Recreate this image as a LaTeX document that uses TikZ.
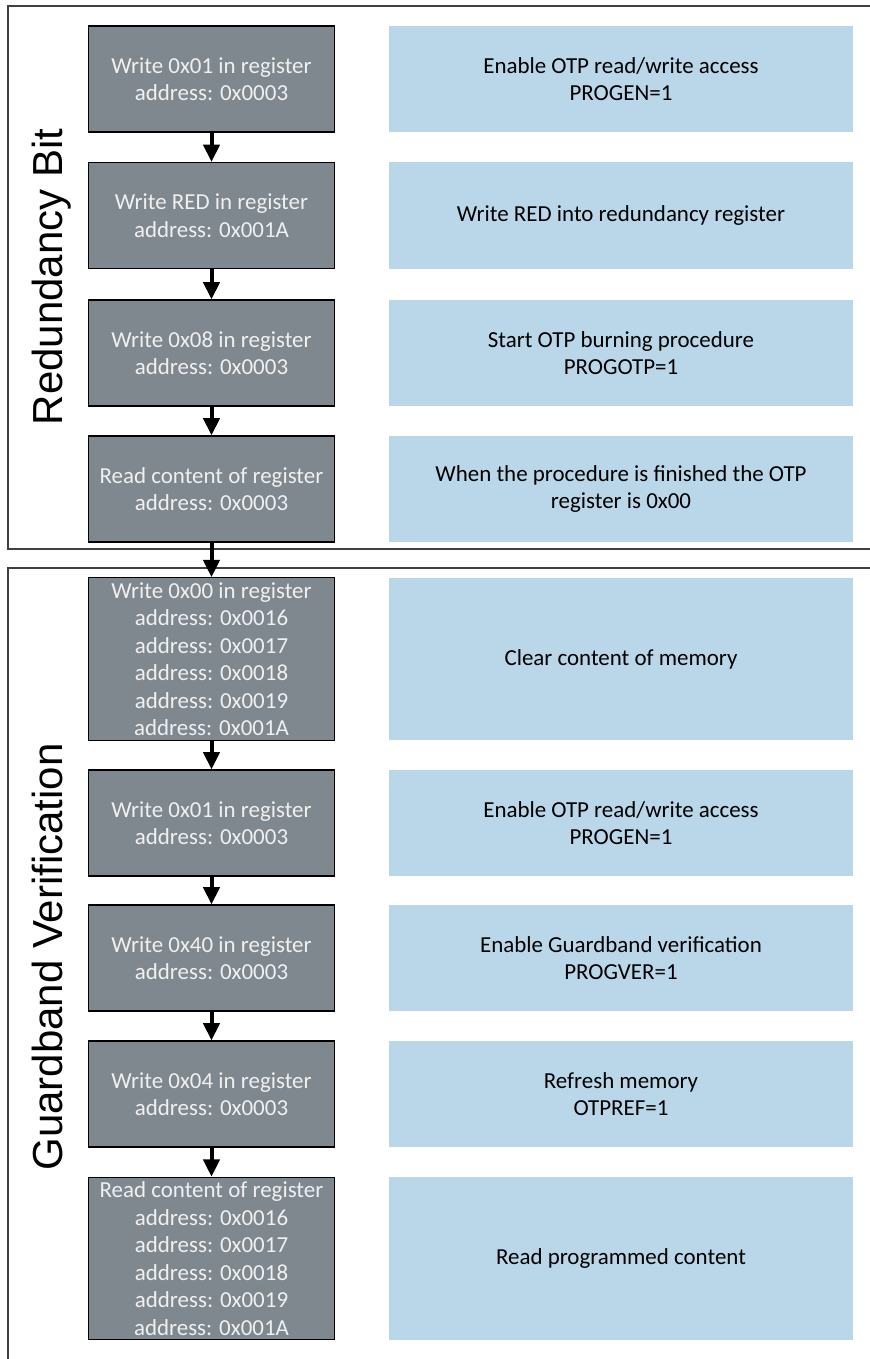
\documentclass[tikz,border=0pt]{standalone}
\usepackage{fontspec}
\setmainfont{Carlito}
\newfontfamily\grouplabelfont{Liberation Sans}
\usetikzlibrary{arrows.meta}

\definecolor{regfill}{RGB}{127,136,143}
\definecolor{descfill}{RGB}{185,215,233}
\definecolor{framegray}{RGB}{64,64,64}

\tikzset{
	boxfont/.style={font=\fontsize{17.2}{20.6}\selectfont},
	regbox/.style={rectangle, draw=black, line width=0.8pt, fill=regfill, text=white!94!black, minimum width=184.5pt, minimum height=79.5pt, align=center, inner sep=0pt, boxfont},
	tallregbox/.style={regbox, minimum height=121.8pt},
	descbox/.style={rectangle, fill=descfill, minimum width=348pt, minimum height=79.5pt, align=center, inner sep=0pt, boxfont},
	talldescbox/.style={descbox, minimum height=121.8pt},
	flow/.style={line width=3pt, -{Triangle[length=13pt,width=12pt]}},
	grouplabel/.style={rotate=90, anchor=base, inner sep=0pt, font=\grouplabelfont\fontsize{31.5}{36}\selectfont},
	frame/.style={draw=framegray, line width=1.5pt}
}

\begin{document}
\begin{tikzpicture}[x=0.75pt, y=-0.75pt]
	\useasboundingbox (0,0) rectangle (869,1359);

	% the two group frames, open to the right
	\draw[frame] (880,6) -| (8,549) -- (880,549);
	\draw[frame] (880,568) -| (8,1370);

	\node[grouplabel] (red) at (62,277) {Redundancy Bit};
	\node[grouplabel] (gbv) at (62,957) {Guardband Verification};

	% register steps
	\node[regbox] (g1) at (211.5,79) {Write 0x01 in register\\address: 0x0003};
	\node[regbox] (g2) at (211.5,215.5) {Write RED in register\\address: 0x001A};
	\node[regbox] (g3) at (211.5,353) {Write 0x08 in register\\address: 0x0003};
	\node[regbox] (g4) at (211.5,489) {Read content of register\\address: 0x0003};
	\node[tallregbox] (g5) at (211.5,659) {Write 0x00 in register\\address: 0x0016\\address: 0x0017\\address: 0x0018\\address: 0x0019\\address: 0x001A};
	\node[regbox] (g6) at (211.5,823) {Write 0x01 in register\\address: 0x0003};
	\node[regbox] (g7) at (211.5,958) {Write 0x40 in register\\address: 0x0003};
	\node[regbox] (g8) at (211.5,1094) {Write 0x04 in register\\address: 0x0003};
	\node[tallregbox] (g9) at (211.5,1258.5) {Read content of register\\address: 0x0016\\address: 0x0017\\address: 0x0018\\address: 0x0019\\address: 0x001A};

	% descriptions
	\node[descbox] (b1) at (621,79) {Enable OTP read/write access\\PROGEN=1};
	\node[descbox] (b2) at (621,215.5) {Write RED into redundancy register};
	\node[descbox] (b3) at (621,353) {Start OTP burning procedure\\PROGOTP=1};
	\node[descbox] (b4) at (621,489) {When the procedure is finished the OTP\\register is 0x00};
	\node[talldescbox] (b5) at (621,659) {Clear content of memory};
	\node[descbox] (b6) at (621,823) {Enable OTP read/write access\\PROGEN=1};
	\node[descbox] (b7) at (621,958) {Enable Guardband verification\\PROGVER=1};
	\node[descbox] (b8) at (621,1094) {Refresh memory\\OTPREF=1};
	\node[talldescbox] (b9) at (621,1258.5) {Read programmed content};

	\foreach \a/\b in {g1/g2, g2/g3, g3/g4, g4/g5, g5/g6, g6/g7, g7/g8, g8/g9}
		\draw[flow] (\a) -- (\b);
\end{tikzpicture}
\end{document}
